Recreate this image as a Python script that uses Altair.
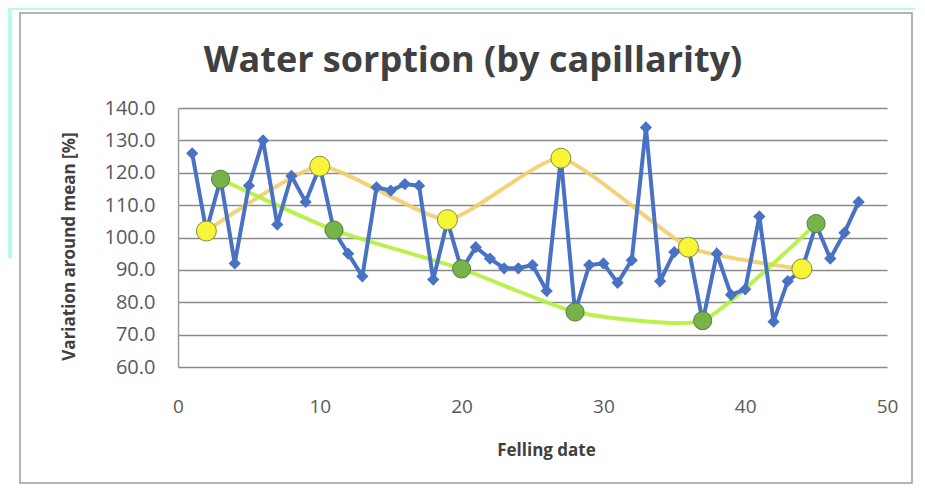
import altair as alt
import pandas as pd

# Blue series: felling date 1..48
dates = list(range(1, 49))
values = [126, 102, 118, 92, 116, 130, 104, 119, 111, 122,
          102, 95, 88, 115.5, 114.5, 116.5, 116, 87, 105, 90,
          97, 93.5, 90.5, 90.5, 91.5, 83.5, 124.5, 77, 91.5, 92,
          86, 93, 134, 86.5, 95.5, 97, 74, 95, 82.3, 84,
          106.5, 74, 86.5, 90, 104, 93.5, 101.5, 111]

# Yellow (local maxima) series
yellow_x = [2, 10, 19, 27, 36, 44]
yellow_y = [102, 122, 105.5, 124.5, 97, 90.3]

# Green (local minima) series
green_x = [3, 11, 20, 28, 37, 45]
green_y = [118, 102.3, 90.3, 77, 74.3, 104.3]

x_ticks = [0, 10, 20, 30, 40, 50]
y_ticks = [60, 70, 80, 90, 100, 110, 120, 130, 140]

TITLE = "Water sorption (by capillarity)"
FONT = "Open Sans"

blue_df = pd.DataFrame({"date": dates, "value": values})
yel_df = pd.DataFrame({"date": yellow_x, "value": yellow_y})
grn_df = pd.DataFrame({"date": green_x, "value": green_y})
one = pd.DataFrame({"label": [TITLE]})

xscale = alt.Scale(domain=[0, 50], nice=False, zero=False)
yscale = alt.Scale(domain=[60, 140], nice=False, zero=False)

xaxis = alt.Axis(values=x_ticks, title="Felling date", grid=False, domain=False, ticks=False,
                 labelFlush=False,
                 labelFont=FONT, labelFontSize=19, labelColor="#595959", labelPadding=30,
                 titleFont=FONT, titleFontSize=17, titleFontWeight="bold", titleColor="#404040",
                 titlePadding=26, titleX=368, titleAlign="center")
yaxis = alt.Axis(values=y_ticks, format=".1f", title="Variation around mean [%]",
                 grid=True, gridColor="#8a8a8a", gridWidth=1.5,
                 domain=True, domainColor="#9a9a9a", domainWidth=1.5, ticks=False,
                 labelFont=FONT, labelFontSize=20, labelColor="#595959", labelPadding=23,
                 titleFont=FONT, titleFontSize=17, titleFontWeight="bold", titleColor="#404040",
                 titlePadding=26, titleY=138)

X = alt.X("date:Q", scale=xscale, axis=xaxis)
Y = alt.Y("value:Q", scale=yscale, axis=yaxis)

# decorative page elements (cyan scan margins and chart frame)
cyan_left = alt.Chart(one).mark_rect(color="#b8fbee").encode(
    x=alt.value(-170), x2=alt.value(-166), y=alt.value(-100), y2=alt.value(150))
cyan_top = alt.Chart(one).mark_rect(color="#b8fbee").encode(
    x=alt.value(-170), x2=alt.value(737), y=alt.value(-100), y2=alt.value(-98))
frame = alt.Chart(one).mark_rect(fillOpacity=0, stroke="#9a9a9a", strokeWidth=1.5).encode(
    x=alt.value(-158), x2=alt.value(734), y=alt.value(-95), y2=alt.value(375))
title = alt.Chart(one).mark_text(font=FONT, fontSize=36, fontWeight="bold", color="#404040",
                                 align="center", baseline="alphabetic").encode(
    x=alt.value(295), y=alt.value(-36), text="label:N")

yel_line = alt.Chart(yel_df).mark_line(color="#f3cd6c", strokeWidth=4, interpolate="cardinal",
                                       tension=0.5, opacity=0.9).encode(x=X, y=Y)
grn_line = alt.Chart(grn_df).mark_line(color="#b2ef3c", strokeWidth=4, interpolate="cardinal",
                                       tension=0.5, opacity=0.9).encode(x=X, y=Y)
blue_line = alt.Chart(blue_df).mark_line(color="#4a72c4", strokeWidth=4).encode(x=X, y=Y)
blue_pts = alt.Chart(blue_df).mark_point(shape="diamond", filled=True, color="#4a72c4",
                                         size=150, opacity=1).encode(x=X, y=Y)
yel_pts = alt.Chart(yel_df).mark_point(shape="circle", filled=True, fill="#f6f536",
                                       stroke="#8c8a3c", strokeWidth=1, size=400,
                                       opacity=1).encode(x=X, y=Y)
grn_pts = alt.Chart(grn_df).mark_point(shape="circle", filled=True, fill="#76b34a",
                                       stroke="#5a7d3a", strokeWidth=1, size=330,
                                       opacity=1).encode(x=X, y=Y)

chart = alt.layer(
    cyan_left, cyan_top, frame, title, yel_line, grn_line, blue_line, blue_pts, yel_pts, grn_pts
).properties(
    width=709, height=259,
    autosize="none",
    padding={"left": 170, "top": 100, "right": 28, "bottom": 118},
    background="white",
).configure_view(stroke=None)

chart.save("out.html", embed_options={"renderer": "svg", "actions": False})
